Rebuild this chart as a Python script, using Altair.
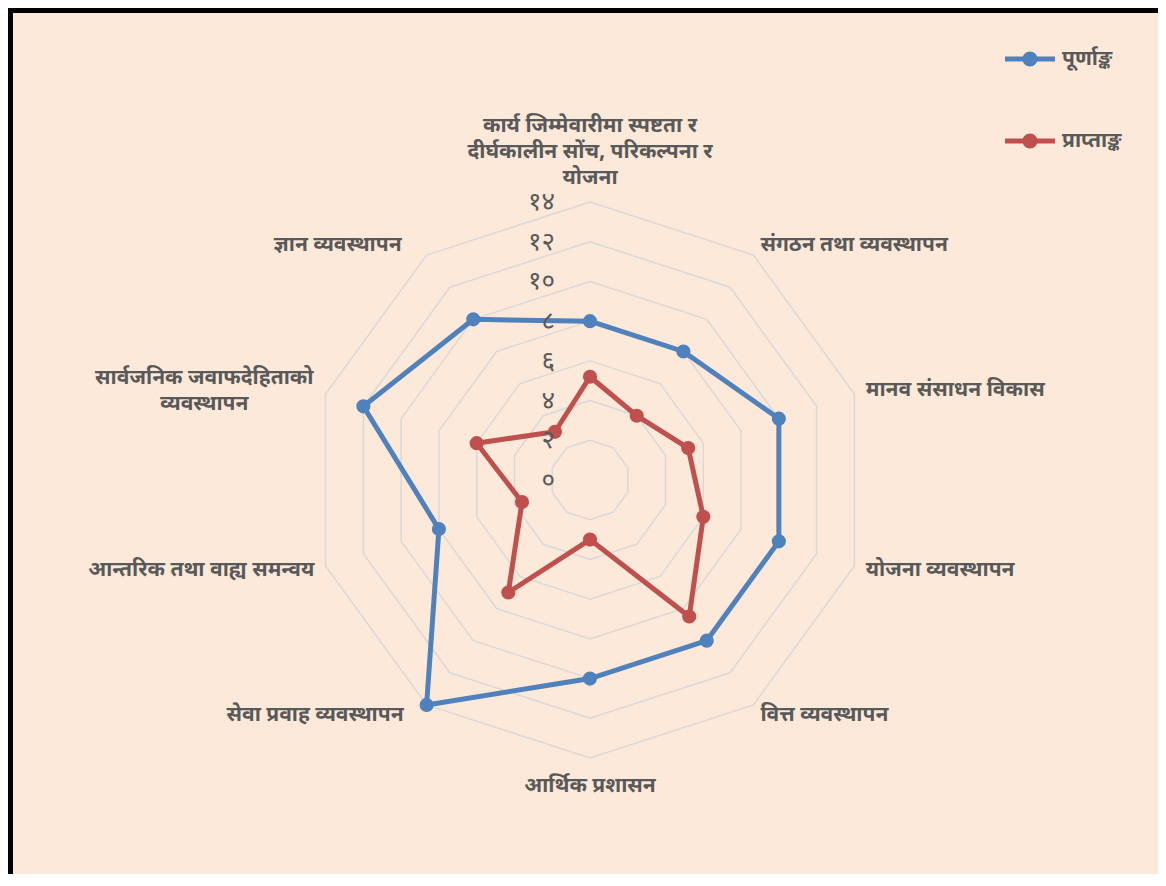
import altair as alt
import pandas as pd

# ---------------- data ----------------
categories = [
    "कार्य जिम्मेवारीमा स्पष्टता र\nदीर्घकालीन सोंच, परिकल्पना र\nयोजना",
    "संगठन तथा व्यवस्थापन",
    "मानव संसाधन विकास",
    "योजना व्यवस्थापन",
    "वित्त व्यवस्थापन",
    "आर्थिक प्रशासन",
    "सेवा प्रवाह व्यवस्थापन",
    "आन्तरिक तथा वाह्य समन्वय",
    "सार्वजनिक जवाफदेहिताको\nव्यवस्थापन",
    "ज्ञान व्यवस्थापन",
]
full_marks = [8, 8, 10, 10, 10, 10, 14, 8, 12, 10]
obtained = [5.2, 4, 5.2, 6, 8.5, 3, 7, 3.6, 6, 3]
series_names = ["पूर्णाङ्क", "प्राप्ताङ्क"]
series_colors = ["#4F81BD", "#C0504D"]
ring_values = [2, 4, 6, 8, 10, 12, 14]
tick_values = [0, 2, 4, 6, 8, 10, 12, 14]
tick_labels = ["०", "२", "४", "६", "८", "१०", "१२", "१४"]

N = len(categories)
BG = "#FDE9D9"
TXT = "#595959"
FONT = "Noto Sans Devanagari, Lohit Devanagari, FreeSans, Noto Sans, sans-serif"

# ---------------- tables built from the lists ----------------
rows = []
for name, vals in zip(series_names, [full_marks, obtained]):
    for k in range(N + 1):
        rows.append({"series": name, "k": k, "v": vals[k % N]})
series_df = pd.DataFrame(rows)

ring_df = pd.DataFrame(
    [{"ring": r, "k": k, "v": r} for r in ring_values for k in range(N + 1)]
)
tick_df = pd.DataFrame({"v": tick_values, "label": tick_labels})
cat_df = pd.DataFrame({"k": list(range(N)), "cat": categories})

# ---------------- geometry (scale domains) ----------------
W, H = 1150, 866
PPU = 278 / 14.0          # pixels per unit
CX, CY = 582, 472         # center inside the chart
xdom = [-CX / PPU, (W - CX) / PPU]
ydom = [-(H - CY) / PPU, CY / PPU]

xs = alt.Scale(domain=xdom, nice=False, zero=False)
ys = alt.Scale(domain=ydom, nice=False, zero=False)

def polar(ch, r_expr="datum.v"):
    return ch.transform_calculate(
        theta=f"2*PI*datum.k/{N}"
    ).transform_calculate(
        x=f"({r_expr})*sin(datum.theta)",
        y=f"({r_expr})*cos(datum.theta)",
    )

X = alt.X("x:Q", scale=xs, axis=None)
Y = alt.Y("y:Q", scale=ys, axis=None)

# frame
frame = alt.Chart(pd.DataFrame({"a": [0]})).mark_rect(
    fill=BG, stroke="black", strokeWidth=5
).encode(
    x=alt.value(2.5), x2=alt.value(3000), y=alt.value(2.5), y2=alt.value(3000)
)

# grid rings
rings = polar(alt.Chart(ring_df)).mark_line(
    color="#D9D9D9", strokeWidth=1.5
).encode(x=X, y=Y, detail="ring:N", order="k:Q")

# tick labels
ticks = alt.Chart(tick_df).transform_calculate(x="0", y="datum.v").mark_text(
    align="right", baseline="middle", dx=-35, fontSize=26, color=TXT, font=FONT
).encode(x=X, y=Y, text="label:N")

color_scale = alt.Scale(domain=series_names, range=series_colors)

LEG_PATH = ("M-1,-0.1H1V0.1H-1Z "
            "M-0.3,0A0.3,0.3,0,1,1,0.3,0A0.3,0.3,0,1,1,-0.3,0Z")

legend = alt.Legend(
    title=None, orient="none", legendX=997, legendY=26, padding=0,
    symbolType=LEG_PATH, symbolSize=2500, symbolStrokeWidth=0,
    symbolOpacity=1, rowPadding=47, labelOffset=7,
    labelFontSize=21, labelColor=TXT, labelFont=FONT,
    labelFontWeight="bold",
)

lines = polar(alt.Chart(series_df)).mark_line(strokeWidth=5).encode(
    x=X, y=Y,
    stroke=alt.Stroke("series:N", scale=color_scale, legend=legend),
    detail="series:N",
    order="k:Q",
)

points = polar(alt.Chart(series_df)).transform_filter(
    f"datum.k < {N}"
).mark_point(filled=True, size=200, opacity=1, strokeWidth=0).encode(
    x=X, y=Y,
    fill=alt.Fill("series:N", scale=color_scale, legend=legend),
)

R_LAB = 14.6

def cat_layer(filter_expr, **mk):
    return polar(alt.Chart(cat_df).transform_filter(filter_expr), f"{R_LAB}").mark_text(
        fontSize=21, color=TXT, font=FONT, fontWeight="bold", lineBreak="\n",
        lineHeight=26, **mk
    ).encode(x=X, y=Y, text="cat:N")

lab_left = cat_layer("datum.k >= 1 && datum.k <= 4", align="left", baseline="middle")
lab_right_a = cat_layer("datum.k == 6", align="right", baseline="middle", dx=-16)
lab_right_c = cat_layer("datum.k == 9", align="right", baseline="middle", dx=-18)
lab_right_b = cat_layer("datum.k == 7", align="right", baseline="middle")
lab_top = cat_layer("datum.k == 0", align="center", baseline="bottom", dy=-54)
lab_bottom = cat_layer("datum.k == 5", align="center", baseline="top", dy=5)
lab_special = cat_layer("datum.k == 8", align="center", baseline="middle", dx=-110, dy=-12)

chart = alt.layer(
    frame, rings, lines, points, ticks,
    lab_left, lab_right_a, lab_right_c, lab_right_b, lab_top, lab_bottom, lab_special,
).properties(
    width=W, height=H, padding=0, autosize=alt.AutoSizeParams(type="none"),
    background=BG,
).configure_view(stroke=None)

chart.save("out.html", embed_options={"renderer": "svg", "actions": False})
